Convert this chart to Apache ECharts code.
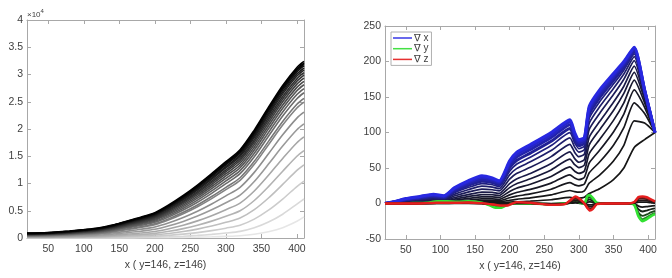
<!DOCTYPE html>
<html><head><meta charset="utf-8">
<script src="https://cdn.jsdelivr.net/npm/echarts@6/dist/echarts.min.js"></script>
<style>html,body{margin:0;padding:0;background:#fff}#c{width:672px;height:278px}</style>
</head><body><div id="c"></div>
<script>
// ---------- Left panel: accumulated profiles ----------
const xLeft = [20,40,60,80,100,120,140,160,180,200,220,240,260,280,300,320,340,360,380,400,410];
const left01 = [5,5,6,7,9,12,17,25,33,46,70,105,152,218,306,423,691,1157,1893,3081,3890];
const left02 = [16,17,20,24,30,39,55,81,110,148,226,332,473,662,906,1215,1877,2927,4367,6223,7160];
const left03 = [37,39,45,56,70,89,126,182,244,326,487,704,985,1350,1805,2355,3467,5108,7148,9439,10437];
const left04 = [70,73,85,104,130,163,229,325,432,570,836,1187,1632,2194,2873,3665,5196,7339,9832,12401,13431];
const left05 = [110,115,134,163,203,254,353,497,653,853,1233,1726,2338,3094,3985,4995,6881,9422,12246,14995,16044];
const left06 = [164,172,199,242,298,371,511,711,926,1198,1706,2353,3142,4097,5197,6413,8624,11506,14595,17482,18545];
const left07 = [231,242,280,339,416,514,701,965,1246,1596,2240,3049,4018,5170,6472,7880,10380,13556,16862,19855,20928];
const left08 = [308,322,373,450,549,675,912,1244,1593,2022,2801,3766,4906,6240,7723,9298,12041,15456,18932,22004,23084];
const left09 = [390,408,472,566,689,842,1129,1526,1939,2441,3345,4451,5741,7233,8868,10581,13520,17121,20726,23857,24942];
const left10 = [423,442,511,613,745,909,1215,1637,2075,2605,3555,4713,6058,7607,9296,11057,14065,17729,21378,24528,25615];
const left11 = [479,501,578,692,839,1021,1357,1820,2297,2871,3894,5133,6564,8199,9971,11805,14913,18672,22384,25562,26652];
const left12 = [523,547,631,755,913,1108,1469,1962,2469,3076,4154,5453,6946,8644,10476,12362,15542,19366,23122,26319,27410];
const left13 = [567,593,684,817,986,1195,1578,2101,2636,3275,4404,5759,7310,9067,10953,12887,16132,20015,23810,27024,28117];
const left14 = [608,635,733,874,1054,1275,1679,2229,2789,3456,4631,6036,7638,9446,11380,13354,16654,20588,24416,27644,28738];
const left15 = [650,679,782,932,1123,1355,1780,2356,2941,3635,4853,6306,7957,9813,11791,13804,17156,21136,24994,28235,29330];
const left16 = [687,718,828,987,1189,1433,1878,2480,3089,3809,5068,6563,8258,10157,12175,14221,17617,21636,25520,28772,29868];
const left17 = [724,756,871,1036,1245,1498,1959,2580,3208,3949,5242,6775,8508,10445,12498,14574,18011,22067,25974,29236,30333];
const left18 = [762,796,916,1090,1308,1572,2051,2695,3344,4108,5438,7010,8782,10758,12845,14950,18426,22516,26446,29717,30814];
const left19 = [793,828,953,1132,1357,1629,2122,2784,3450,4231,5589,7191,8994,11000,13115,15243,18749,22866,26813,30091,31189];
const left20 = [827,864,993,1179,1412,1693,2201,2881,3565,4365,5753,7387,9221,11257,13400,15552,19088,23233,27198,30483,31582];
const left21 = [852,890,1023,1214,1452,1740,2259,2953,3649,4463,5872,7530,9386,11444,13607,15776,19336,23500,27476,30766,31865];
const left22 = [873,912,1048,1243,1486,1779,2307,3013,3719,4544,5971,7647,9523,11600,13779,15961,19539,23718,27706,31000,32100];
const left23 = [900,940,1080,1280,1530,1830,2370,3090,3810,4650,6100,7800,9700,11800,14000,16200,19800,24000,28000,31300,32400];
const leftCurves = [left01,left02,left03,left04,left05,left06,left07,left08,left09,left10,left11,left12,
                    left13,left14,left15,left16,left17,left18,left19,left20,left21,left22,left23];

// ---------- Right panel: gradients ----------
const xGradX = [20,35,50,70,90,105,120,140,160,175,185,200,210,230,260,287,294,300,308,315,330,350,365,380,395,410];
const gx01 = [0,0,0.1,0.1,0.2,0.2,0.4,0.7,0.9,0.9,0.9,1.9,2.4,3.3,5.3,8.5,7.8,7.6,8.7,14.1,20.8,33.7,50,79,90,100];
const gx02 = [0,0.1,0.2,0.4,0.5,0.5,1.0,1.7,2.3,2.3,2.2,4.6,5.9,7.9,12.1,18.3,16.7,15.9,17.9,28.6,40,59.8,82,116.4,113.4,100];
const gx03 = [0,0.2,0.5,0.7,1.0,0.9,1.9,3.1,4.2,4.2,4.0,8.1,10.3,13.5,20.1,29.3,26.3,24.9,27.6,43.3,58.4,82.2,106.8,141.7,126.9,100];
const gx04 = [0,0.3,0.7,1.1,1.6,1.4,3.1,4.9,6.5,6.5,6.0,12.2,15.5,19.9,28.7,40.4,35.9,33.6,36.8,57.1,74.9,100.8,126,160,135.5,100];
const gx05 = [0,0.5,1.1,1.7,2.4,2.1,4.5,7.1,9.4,9.2,8.5,17.0,21.5,27.1,37.9,51.6,45.5,42.3,45.8,70.3,90,117.1,141.8,173.8,141.8,100];
const gx06 = [0,0.7,1.6,2.4,3.4,3.0,6.2,9.7,12.6,12.3,11.3,22.4,27.9,34.8,47.3,62.5,54.7,50.6,54.2,82.6,103.7,131,155,184.8,146.4,100];
const gx07 = [0,0.9,2.2,3.2,4.5,3.9,8.1,12.5,16.1,15.6,14.2,27.9,34.5,42.3,56.3,72.8,63.2,58.1,61.8,93.4,115.4,142.6,165.2,193.4,149.8,100];
const gx08 = [0,1.2,2.9,4.3,5.8,5.1,10.5,16.0,20.3,19.4,17.7,34.3,42.1,50.9,66,83.4,72,65.9,69.5,104.4,126.9,153.4,175,201.1,152.8,100];
const gx09 = [0,1.5,3.7,5.4,7.3,6.3,12.9,19.4,24.5,23.1,20.9,40.3,49.1,58.7,74.6,92.5,79.4,72.3,75.9,113.2,136.2,162,182.4,206.8,155,100];
const gx10 = [0,1.9,4.4,6.5,8.6,7.4,15.1,22.5,28.1,26.4,23.7,45.4,55.2,65.2,81.6,99.7,85.3,77.4,80.8,120.1,143.2,168.2,187.8,210.8,156.6,100];
const gx11 = [0,2.2,5.2,7.5,9.9,8.5,17.2,25.4,31.4,29.6,26.3,50,60.5,71,87.6,105.8,90.2,81.6,84.9,125.9,149,173.5,192,214.1,157.8,100];
const gx12 = [0,2.5,5.9,8.5,11.1,9.5,19.1,28.1,34.6,32.1,28.7,54.2,65.3,76,92.9,111,94.4,85.2,88.4,130.7,153.8,177.7,195.6,216.7,158.9,100];
const gx13 = [0,2.8,6.5,9.3,12.1,10.3,20.7,30.2,36.9,34.2,30.5,57.3,68.9,79.8,96.7,114.8,97.5,87.8,90.9,134.1,157.3,180.6,198,219.3,159.5,100];
const gx14 = [0,3,7,10,13,11,22,32,39,36,32,60,72,83,100,118,100,90,93,137,160,183,200,220,160,100];
const gradXCurves = [gx01,gx02,gx03,gx04,gx05,gx06,gx07,gx08,gx09,gx10,gx11,gx12,gx13,gx14];

const xGradYZ = [20,40,60,80,95,110,125,140,160,172,180,188,196,210,230,260,280,288,295,302,308,312,316,320,326,340,370,380,386,392,398,404,410];
const gy1 = [0,0,0.1,0.2,0.6,0.6,0.5,0.6,0.2,-0.6,-1.2,-1.2,-0.4,0.1,0,-0.2,0,0.4,1,0.2,0,2,2.4,1.6,0.2,0,0,-0.4,-3.6,-5,-4.4,-3.6,-3];
const gy2 = [0,0,0.2,0.45,1.35,1.35,1.1,1.35,0.45,-1.35,-2.7,-2.7,-0.9,0.2,0,-0.45,0,0.9,2.25,0.45,0,4.5,5.4,3.6,0.45,0,0,-0.9,-8.1,-11.3,-9.9,-8.1,-6.8];
const gy3 = [0,0,0.35,0.7,2.1,2.1,1.75,2.1,0.7,-2.1,-4.2,-4.2,-1.4,0.35,0,-0.7,0,1.4,3.5,0.7,0,7,8.4,5.6,0.7,0,0,-1.4,-12.6,-17.5,-15.4,-12.6,-10.5];
const gy4 = [0,0,0.4,0.9,2.6,2.6,2.2,2.6,0.9,-2.6,-5.3,-5.3,-1.8,0.4,0,-0.9,0,1.8,4.4,0.9,0,8.8,10.6,7,0.9,0,0,-1.8,-15.8,-22,-19.4,-15.8,-13.2];
const gy5 = [0,0,0.5,1,3,3,2.5,3,1,-3,-6,-6,-2,0.5,0,-1,0,2,5,1,0,10,12,8,1,0,0,-2,-18,-25,-22,-18,-15];
const gz1 = [0,0,0,0.1,0.2,0.2,0.2,0.3,0.1,-0.2,-0.4,-0.6,-0.6,0.4,0.2,-0.4,-0.2,1,2,1.2,0,-1.2,-2,-1.6,-0.2,0,0,0.4,1.8,2,1.8,1.2,0.6];
const gz2 = [0,0,0,0.2,0.45,0.45,0.45,0.7,0.2,-0.45,-0.9,-1.35,-1.35,0.9,0.45,-0.9,-0.45,2.25,4.5,2.7,0,-2.7,-4.5,-3.6,-0.45,0,0,0.9,4,4.5,4,2.7,1.35];
const gz3 = [0,0,0,0.35,0.7,0.7,0.7,1.05,0.35,-0.7,-1.4,-2.1,-2.1,1.4,0.7,-1.4,-0.7,3.5,7,4.2,0,-4.2,-7,-5.6,-0.7,0,0,1.4,6.3,7,6.3,4.2,2.1];
const gz4 = [0,0,0,0.4,0.9,0.9,0.9,1.3,0.4,-0.9,-1.8,-2.6,-2.6,1.8,0.9,-1.8,-0.9,4.4,8.8,5.3,0,-5.3,-8.8,-7,-0.9,0,0,1.8,7.9,8.8,7.9,5.3,2.6];
const gz5 = [0,0,0,0.5,1,1,1,1.5,0.5,-1,-2,-3,-3,2,1,-2,-1,5,10,6,0,-6,-10,-8,-1,0,0,2,9,10,9,6,3];
const gradYCurves = [gy1,gy2,gy3,gy4,gy5];
const gradZCurves = [gz1,gz2,gz3,gz4,gz5];

const legendNames = ['\u2207 x','\u2207 y','\u2207 z'];
const xAxisName = 'x ( y=146, z=146)';

// ---------- styling ----------
const FONT = 'Liberation Sans, Arial, DejaVu Sans, sans-serif';
const AX = '#a8a8a8', TXT = '#404040';
function mix(a, b, t) { return 'rgb(' + a.map((v, i) => Math.round(v + (b[i] - v) * t)).join(',') + ')'; }
function pairs(xs, ys) { return ys.map((y, i) => [xs[i], y]); }

function xAx(grid, pos) {
  const main = pos === 'bottom';
  return { type: 'value', gridIndex: grid, position: pos, min: 20, max: 410, splitNumber: 8, minInterval: 50, maxInterval: 50,
    axisLine: { show: true, onZero: false, lineStyle: { color: AX, width: 1 } },
    axisTick: { show: true, inside: true, length: 4, lineStyle: { color: AX } },
    axisLabel: { show: main, color: TXT, fontSize: 10.5, fontFamily: FONT, margin: 6, showMinLabel: false, showMaxLabel: false },
    splitLine: { show: false },
    name: main ? xAxisName : '', nameLocation: 'middle', nameGap: 18,
    nameTextStyle: { color: TXT, fontSize: 10.5, fontFamily: FONT } };
}
function yAx(grid, pos, min, max, interval, fmt) {
  const main = pos === 'left';
  return { type: 'value', gridIndex: grid, position: pos, min: min, max: max, interval: interval,
    axisLine: { show: true, onZero: false, lineStyle: { color: AX, width: 1 } },
    axisTick: { show: true, inside: true, length: 4, lineStyle: { color: AX } },
    axisLabel: { show: main, color: TXT, fontSize: 10.5, fontFamily: FONT, margin: 4, formatter: fmt },
    splitLine: { show: false } };
}

const series = [];
leftCurves.forEach((c, i) => {
  const t = i / (leftCurves.length - 1);
  const g = Math.round(230 * Math.pow(1 - t, 1.25));
  series.push({ type: 'line', xAxisIndex: 0, yAxisIndex: 0, data: pairs(xLeft, c), showSymbol: false, symbol: 'none',
    smooth: 0.3, lineStyle: { color: 'rgb(' + g + ',' + g + ',' + g + ')', width: 1.6 }, silent: true, z: 2 });
});
gradXCurves.forEach((c, i) => {
  const t = i / (gradXCurves.length - 1);
  const top = i === gradXCurves.length - 1;
  series.push({ type: 'line', name: top ? legendNames[0] : 'gx' + i, xAxisIndex: 2, yAxisIndex: 2, data: pairs(xGradX, c),
    showSymbol: false, symbol: 'none', smooth: 0.2,
    lineStyle: { color: mix([22, 22, 22], [40, 40, 225], Math.pow(t, 1.8)), width: i >= 10 ? 3 : 1.7 }, silent: true, z: 2 });
});
gradYCurves.forEach((c, i) => {
  const t = i / (gradYCurves.length - 1);
  const top = i === gradYCurves.length - 1;
  series.push({ type: 'line', name: top ? legendNames[1] : 'gy' + i, xAxisIndex: 2, yAxisIndex: 2, data: pairs(xGradYZ, c),
    showSymbol: false, symbol: 'none', smooth: 0.2,
    lineStyle: { color: mix([22, 22, 22], [50, 225, 50], t * t), width: top ? 2.6 : 1.8 }, silent: true, z: 3 });
});
gradZCurves.forEach((c, i) => {
  const t = i / (gradZCurves.length - 1);
  const top = i === gradZCurves.length - 1;
  series.push({ type: 'line', name: top ? legendNames[2] : 'gz' + i, xAxisIndex: 2, yAxisIndex: 2, data: pairs(xGradYZ, c),
    showSymbol: false, symbol: 'none', smooth: 0.2,
    lineStyle: { color: mix([22, 22, 22], [230, 30, 30], t * t), width: top ? 2.4 : 1.8 }, silent: true, z: 4 });
});

const chart = echarts.init(document.getElementById('c'), null, { renderer: 'canvas' });
chart.setOption({
  animation: false,
  backgroundColor: '#fff',
  grid: [
    { left: 27, right: 368, top: 20, bottom: 40, containLabel: false },
    { left: 385, right: 17, top: 26, bottom: 39, containLabel: false }
  ],
  xAxis: [xAx(0, 'bottom'), xAx(0, 'top'), xAx(1, 'bottom'), xAx(1, 'top')],
  yAxis: [
    yAx(0, 'left', 0, 40000, 5000, v => String(v / 10000)),
    yAx(0, 'right', 0, 40000, 5000),
    yAx(1, 'left', -50, 250, 50),
    yAx(1, 'right', -50, 250, 50)
  ],
  legend: {
    data: legendNames.map((n, i) => ({ name: n, icon: 'path://M0 0H20V1.6H0Z',
      itemStyle: { color: ['#3a3ae6', '#44e044', '#e63030'][i] } })),
    orient: 'vertical', left: 391, top: 32, itemWidth: 19, itemHeight: 10, itemGap: 0.7,
    symbolKeepAspect: true, padding: [1, 3, 1, 2], borderColor: '#b0b0b0', borderWidth: 1, backgroundColor: '#fff',
    selectedMode: false, textStyle: { color: TXT, fontSize: 10, fontFamily: FONT, padding: [0, 0, 0, -3] }
  },
  graphic: [
    { type: 'text', left: 27, top: 11, style: { text: '\u00d710', fill: TXT, font: '8px ' + FONT } },
    { type: 'text', left: 40.5, top: 8.5, style: { text: '4', fill: TXT, font: '6px ' + FONT } }
  ],
  series: series
});
</script></body></html>
